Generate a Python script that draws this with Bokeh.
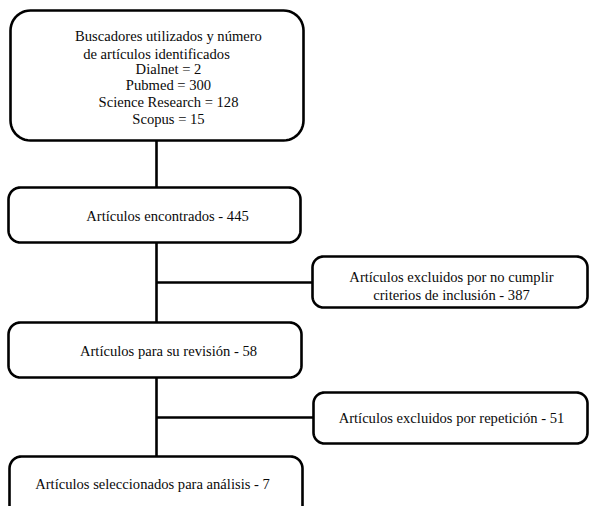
import numpy as np
from bokeh.plotting import figure
from bokeh.models import ColumnDataSource
from bokeh.core.properties import value
from bokeh.embed import file_html
from bokeh.resources import INLINE

# ---- data ----
header_lines = ["Buscadores utilizados y número", "de artículos identificados"]
search_engines = ["Dialnet", "Pubmed", "Science Research", "Scopus"]
engine_counts = [2, 300, 128, 15]
stage_labels = ["Artículos encontrados", "Artículos para su revisión",
                "Artículos seleccionados para análisis"]
stage_counts = [445, 58, 7]
excluded_first = ["Artículos excluidos por no cumplir", None]
excluded_labels = ["criterios de inclusión", "Artículos excluidos por repetición"]
excluded_counts = [387, 51]

# ---- layout (screen-like coordinates, y downwards) ----
W, H = 589, 506
p = figure(width=W, height=H, x_range=(0, W), y_range=(H, 0),
           output_backend="svg", toolbar_location=None, min_border=0)
p.axis.visible = False
p.grid.visible = False
p.outline_line_color = None
p.background_fill_color = "white"
p.border_fill_color = "white"


def rounded(x0, x1, y0, y1, r, n=12):
    xs, ys = [], []
    corners = [(x1 - r, y0 + r, -90, 0), (x1 - r, y1 - r, 0, 90),
               (x0 + r, y1 - r, 90, 180), (x0 + r, y0 + r, 180, 270)]
    for cx, cy, a0, a1 in corners:
        t = np.radians(np.linspace(a0, a1, n))
        xs.extend(cx + r * np.cos(t))
        ys.extend(cy + r * np.sin(t))
    return list(xs), list(ys)


boxes = [
    (10, 303, 10, 140, 20),   # search engines
    (8, 300, 187, 242, 12),   # found
    (312, 587, 256, 307, 11), # excluded 1
    (8, 301, 322, 377, 12),   # review
    (313, 587, 392, 443, 11), # excluded 2
    (9, 302, 456, 530, 12),   # selected
]

# connectors
vx = 156
seg_x = [[vx, vx], [vx, vx], [vx, vx], [vx, 312], [vx, 313]]
seg_y = [[140, 187], [242, 322], [377, 456], [282, 282], [417, 417]]
p.multi_line(seg_x, seg_y, line_color="black", line_width=2.6)

bx, by = zip(*[rounded(*b) for b in boxes])
p.patches(list(bx), list(by), fill_color="white", line_color="black",
          line_width=2.6)

# texts
tx, ty, tt = [], [], []
header_x = [168, 156]
header_y = [35, 53]
for s, x, y in zip(header_lines, header_x, header_y):
    tx.append(x); ty.append(y); tt.append(s)
eng_y = [68, 84, 101, 118]
for name, c, y in zip(search_engines, engine_counts, eng_y):
    tx.append(168); ty.append(y); tt.append(f"{name} = {c}")

stage_x = [167, 168, 152]
stage_y = [215, 350, 483]
for lab, c, x, y in zip(stage_labels, stage_counts, stage_x, stage_y):
    tx.append(x); ty.append(y); tt.append(f"{lab} - {c}")

ex_first_y = [276, None]
ex_y = [294, 417]
for first, fy, lab, c, y in zip(excluded_first, ex_first_y, excluded_labels,
                                excluded_counts, ex_y):
    if first:
        tx.append(451); ty.append(fy); tt.append(first)
    tx.append(451); ty.append(y); tt.append(f"{lab} - {c}")

src = ColumnDataSource(dict(x=tx, y=ty, t=tt))
p.text("x", "y", text="t", source=src, text_font=value("Liberation Serif"),
       text_font_size="14.6px", text_align="center", text_baseline="middle",
       text_color="#0a0a0a")

open("out.html", "w").write(file_html(p, INLINE))
